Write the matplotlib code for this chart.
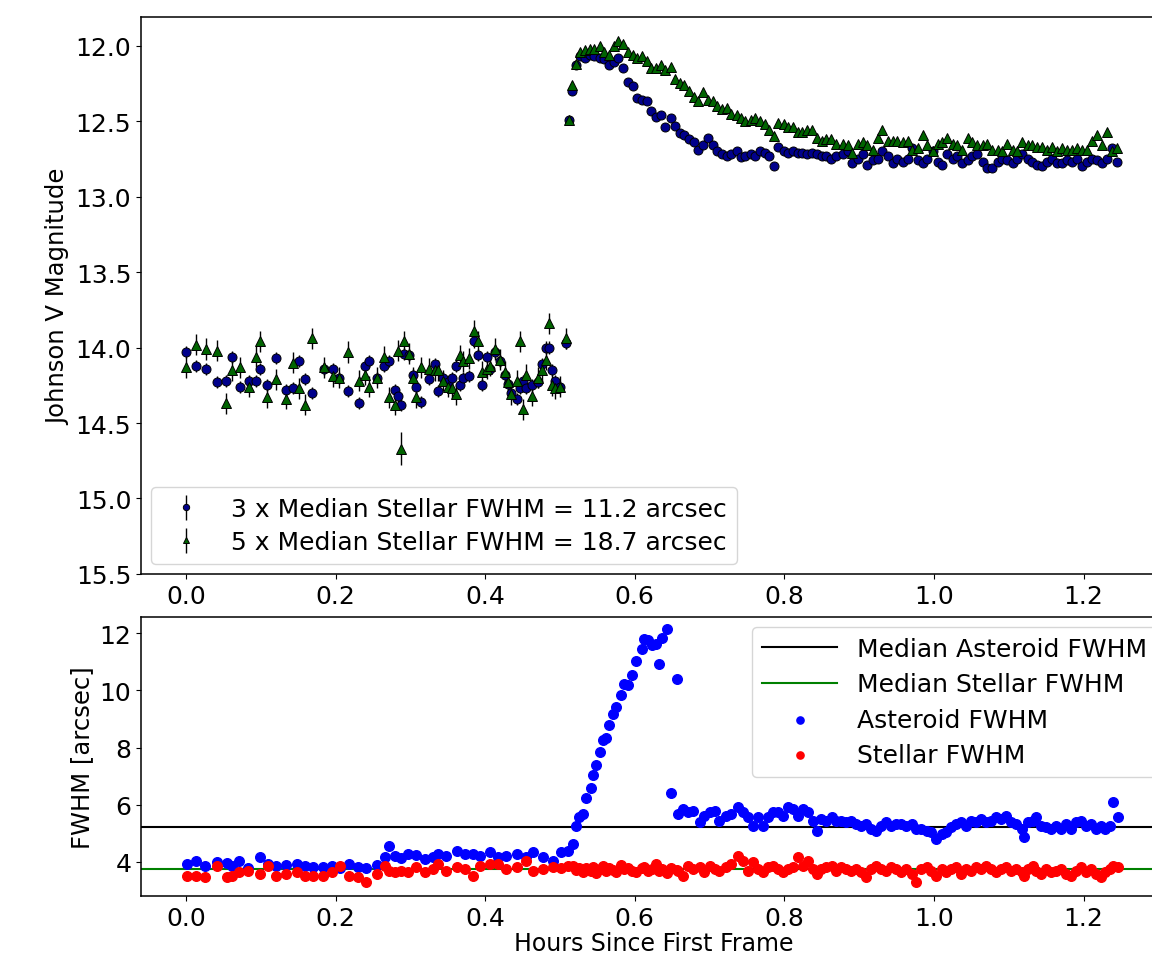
#!/usr/bin/env python3
"""Asteroid light curve (two apertures) and FWHM comparison, two stacked panels."""

import matplotlib
matplotlib.use("Agg")
import matplotlib.pyplot as plt


# ---- top panel: Johnson V magnitude, shared frame times for both apertures ----
HOURS_MAG = [
    # before the outburst
    0.000, 0.014, 0.027, 0.041, 0.054, 0.061, 0.072, 0.084, 0.094, 0.099,
    0.108, 0.121, 0.134, 0.143, 0.151, 0.159, 0.168, 0.184, 0.196, 0.204,
    0.217, 0.232, 0.240, 0.245, 0.255, 0.265, 0.272, 0.279, 0.283, 0.288,
    0.292, 0.298, 0.303, 0.307, 0.314, 0.325, 0.333, 0.337, 0.344, 0.350,
    0.356, 0.361, 0.366, 0.371, 0.379, 0.385, 0.391, 0.396, 0.402, 0.407,
    0.413, 0.420, 0.426, 0.431, 0.435, 0.442, 0.446, 0.450, 0.455, 0.463,
    0.471, 0.476, 0.482, 0.486, 0.489, 0.494, 0.500, 0.508,
    # outburst and decay
    0.512, 0.516, 0.522, 0.527, 0.533, 0.540, 0.546, 0.553, 0.559, 0.566,
    0.572, 0.578, 0.584, 0.591, 0.597, 0.603, 0.609, 0.616, 0.622, 0.628,
    0.635, 0.641, 0.648, 0.654, 0.660, 0.666, 0.672, 0.679, 0.685, 0.691,
    0.698, 0.704, 0.710, 0.717, 0.723, 0.729, 0.736, 0.742, 0.748, 0.755,
    0.761, 0.767, 0.774, 0.780, 0.786, 0.792, 0.799, 0.805, 0.811, 0.818,
    0.824, 0.830, 0.837, 0.843, 0.850, 0.856, 0.862, 0.869,
    # plateau
    0.878, 0.885, 0.891, 0.898, 0.905, 0.911, 0.918, 0.925, 0.931, 0.938,
    0.945, 0.951, 0.958, 0.965, 0.971, 0.978, 0.985, 0.991, 0.998, 1.005,
    1.011, 1.018, 1.025, 1.031, 1.038, 1.045, 1.051, 1.058, 1.065, 1.071,
    1.078, 1.085, 1.091, 1.098, 1.105, 1.111, 1.118, 1.125, 1.131, 1.138,
    1.145, 1.151, 1.158, 1.165, 1.171, 1.178, 1.185, 1.191, 1.198, 1.205,
    1.211, 1.218, 1.225, 1.231, 1.238, 1.245,
]

MAG_3FWHM = [
    14.03, 14.12, 14.14, 14.23, 14.22, 14.06, 14.26, 14.22, 14.22, 14.14,
    14.25, 14.07, 14.28, 14.27, 14.09, 14.21, 14.30, 14.14, 14.14, 14.20,
    14.29, 14.37, 14.12, 14.09, 14.20, 14.12, 14.09, 14.28, 14.32, 14.38,
    14.04, 14.05, 14.18, 14.26, 14.36, 14.21, 14.11, 14.29, 14.20, 14.23,
    14.20, 14.12, 14.25, 14.20, 14.19, 13.96, 14.05, 14.25, 14.06, 14.14,
    14.03, 14.09, 14.18, 14.24, 14.30, 14.34, 14.27, 14.22, 14.27, 14.25,
    14.23, 14.11, 14.00, 14.00, 14.15, 14.22, 14.26, 13.97,
    12.49, 12.30, 12.13, 12.07, 12.08, 12.06, 12.07, 12.08, 12.09, 12.13,
    12.11, 12.08, 12.15, 12.24, 12.27, 12.35, 12.36, 12.37, 12.43, 12.47,
    12.46, 12.54, 12.48, 12.53, 12.58, 12.59, 12.62, 12.64, 12.69, 12.66,
    12.61, 12.66, 12.70, 12.72, 12.73, 12.72, 12.70, 12.74, 12.73, 12.72,
    12.73, 12.70, 12.71, 12.73, 12.80, 12.67, 12.70, 12.71, 12.70, 12.71,
    12.71, 12.72, 12.71, 12.72, 12.73, 12.73, 12.75, 12.73,
    12.72, 12.70, 12.78, 12.75, 12.72, 12.79, 12.76, 12.75, 12.70, 12.73,
    12.78, 12.75, 12.77, 12.75, 12.68, 12.76, 12.78, 12.75, 12.70, 12.77,
    12.79, 12.72, 12.75, 12.73, 12.78, 12.76, 12.73, 12.72, 12.77, 12.81,
    12.81, 12.77, 12.75, 12.76, 12.78, 12.75, 12.72, 12.75, 12.77, 12.79,
    12.80, 12.77, 12.75, 12.78, 12.78, 12.76, 12.77, 12.75, 12.80, 12.77,
    12.75, 12.76, 12.78, 12.75, 12.68, 12.77,
]

MAG_5FWHM = [
    14.13, 13.98, 14.01, 14.02, 14.37, 14.15, 14.13, 14.26, 14.06, 13.96,
    14.33, 14.21, 14.34, 14.10, 14.27, 14.38, 13.94, 14.13, 14.19, 14.20,
    14.03, 14.22, 14.18, 14.26, 14.20, 14.06, 14.33, 14.38, 14.02, 14.67,
    13.96, 14.04, 14.20, 14.33, 14.13, 14.14, 14.15, 14.15, 14.22, 14.26,
    14.27, 14.31, 14.05, 14.09, 14.07, 13.89, 13.96, 14.16, 14.14, 14.12,
    14.01, 14.08, 14.16, 14.23, 14.31, 14.22, 13.96, 14.41, 14.18, 14.32,
    14.20, 14.15, 14.08, 13.84, 14.25, 14.27, 14.26, 13.94,
    12.49, 12.26, 12.12, 12.04, 12.03, 12.02, 12.02, 12.00, 12.04, 12.06,
    12.00, 11.97, 11.99, 12.04, 12.06, 12.08, 12.07, 12.10, 12.15, 12.15,
    12.13, 12.16, 12.14, 12.22, 12.25, 12.26, 12.30, 12.34, 12.37, 12.31,
    12.36, 12.37, 12.40, 12.42, 12.41, 12.45, 12.46, 12.48, 12.50, 12.49,
    12.48, 12.50, 12.52, 12.56, 12.60, 12.51, 12.52, 12.54, 12.54, 12.57,
    12.57, 12.56, 12.56, 12.61, 12.63, 12.62, 12.62, 12.65,
    12.65, 12.66, 12.71, 12.65, 12.64, 12.66, 12.69, 12.61, 12.56, 12.63,
    12.63, 12.63, 12.64, 12.63, 12.69, 12.68, 12.59, 12.66, 12.70, 12.65,
    12.64, 12.61, 12.65, 12.66, 12.69, 12.61, 12.64, 12.66, 12.66, 12.65,
    12.69, 12.69, 12.70, 12.65, 12.69, 12.70, 12.64, 12.66, 12.66, 12.67,
    12.67, 12.69, 12.67, 12.70, 12.68, 12.69, 12.69, 12.68, 12.69, 12.69,
    12.63, 12.59, 12.66, 12.57, 12.70, 12.68,
]

N_PRE = 68
ERR_3FWHM = [0.04] * N_PRE + [0.012] * (len(HOURS_MAG) - N_PRE)
ERR_5FWHM = [0.07] * N_PRE + [0.018] * (len(HOURS_MAG) - N_PRE)
ERR_5FWHM[29] = 0.11  # the one deep point near 0.29 h

LABEL_3 = "3 x Median Stellar FWHM = 11.2 arcsec"
LABEL_5 = "5 x Median Stellar FWHM = 18.7 arcsec"

# ---- bottom panel: FWHM of asteroid and comparison stars ----
HOURS_FWHM = [
    0.001, 0.014, 0.025, 0.041, 0.055, 0.061, 0.071, 0.083, 0.099, 0.110,
    0.121, 0.134, 0.148, 0.159, 0.170, 0.183, 0.195, 0.206, 0.218, 0.230,
    0.241, 0.255, 0.266, 0.272, 0.279, 0.288, 0.297, 0.308, 0.319, 0.330,
    0.337, 0.348, 0.362, 0.373, 0.384, 0.393, 0.406, 0.417, 0.428, 0.442,
    0.455, 0.464, 0.477, 0.491, 0.502, 0.511, 0.517,
    0.522, 0.526, 0.531, 0.535, 0.541, 0.544, 0.548, 0.554, 0.557, 0.561,
    0.566, 0.571, 0.575, 0.582, 0.586, 0.591, 0.596, 0.601, 0.609, 0.613,
    0.618, 0.623, 0.628, 0.632, 0.637, 0.643, 0.649, 0.656,
    0.658, 0.664, 0.671, 0.678, 0.687, 0.693, 0.700, 0.707, 0.713, 0.722,
    0.729, 0.738, 0.745, 0.751, 0.758, 0.765, 0.771, 0.778, 0.785, 0.791,
    0.798, 0.805, 0.811, 0.818, 0.825, 0.831, 0.838, 0.843, 0.849, 0.856,
    0.863, 0.869, 0.876, 0.883, 0.889, 0.896, 0.903, 0.909, 0.916, 0.923,
    0.929, 0.936, 0.943, 0.949, 0.956, 0.963, 0.970, 0.976, 0.983, 0.990,
    0.996, 1.003, 1.010, 1.016, 1.023, 1.030, 1.036, 1.043, 1.050, 1.056,
    1.063, 1.070, 1.076, 1.083, 1.090, 1.096, 1.103, 1.110, 1.117, 1.120,
    1.125, 1.132, 1.136, 1.143, 1.150, 1.157, 1.163, 1.170, 1.177, 1.183,
    1.190, 1.197, 1.203, 1.210, 1.217, 1.223, 1.228, 1.235, 1.239, 1.246,
]

ASTEROID_FWHM = [
    3.93, 4.05, 3.85, 3.99, 3.97, 3.85, 4.05, 3.78, 4.16, 3.93,
    3.87, 3.90, 3.93, 3.85, 3.81, 3.81, 3.85, 3.78, 3.93, 3.81,
    3.78, 3.90, 4.16, 4.55, 4.20, 4.13, 4.28, 4.24, 4.10, 4.16,
    4.28, 4.22, 4.40, 4.28, 4.28, 4.22, 4.34, 4.16, 4.22, 4.28,
    4.16, 4.34, 4.16, 4.05, 4.34, 4.40, 4.63,
    5.27, 5.56, 5.68, 6.23, 6.58, 7.03, 7.38, 7.85, 8.25, 8.33,
    8.78, 9.18, 9.41, 9.84, 10.23, 10.19, 10.52, 11.04, 11.43, 11.80,
    11.74, 11.57, 11.63, 10.93, 11.82, 12.15, 6.41, 10.40,
    5.68, 5.85, 5.74, 5.79, 5.39, 5.62, 5.74, 5.79, 5.44, 5.62,
    5.68, 5.91, 5.74, 5.56, 5.27, 5.56, 5.27, 5.56, 5.74, 5.74,
    5.62, 5.91, 5.85, 5.62, 5.85, 5.74, 5.44, 5.09, 5.50, 5.44,
    5.56, 5.44, 5.44, 5.39, 5.44, 5.33, 5.27, 5.33, 5.15, 5.09,
    5.27, 5.39, 5.27, 5.33, 5.33, 5.27, 5.33, 5.15, 5.15, 5.09,
    5.04, 4.80, 4.98, 5.04, 5.21, 5.33, 5.39, 5.27, 5.44, 5.39,
    5.50, 5.39, 5.44, 5.56, 5.50, 5.62, 5.39, 5.33, 5.15, 4.86,
    5.39, 5.44, 5.56, 5.27, 5.21, 5.15, 5.27, 5.15, 5.33, 5.15,
    5.39, 5.44, 5.27, 5.33, 5.15, 5.27, 5.15, 5.27, 6.09, 5.56,
]

STELLAR_FWHM = [
    3.52, 3.52, 3.46, 3.87, 3.46, 3.52, 3.64, 3.70, 3.58, 3.85,
    3.50, 3.58, 3.64, 3.52, 3.52, 3.50, 3.64, 3.87, 3.52, 3.46,
    3.29, 3.58, 3.85, 3.70, 3.64, 3.70, 3.66, 3.81, 3.64, 3.76,
    3.93, 3.70, 3.81, 3.76, 3.52, 3.87, 3.93, 3.93, 3.76, 3.81,
    4.05, 3.70, 3.76, 3.81, 3.78, 3.87, 3.85,
    3.72, 3.80, 3.65, 3.78, 3.70, 3.82, 3.62, 3.75, 3.85, 3.68,
    3.79, 3.72, 3.66, 3.88, 3.74, 3.80, 3.70, 3.64, 3.78, 3.83,
    3.70, 3.76, 3.92, 3.68, 3.74, 3.62, 3.80, 3.72,
    3.70, 3.52, 3.87, 3.76, 3.81, 3.64, 3.87, 3.76, 3.70, 3.81,
    3.93, 4.22, 4.05, 3.70, 3.99, 3.76, 3.64, 3.81, 3.87, 3.76,
    3.64, 3.76, 3.81, 4.16, 3.87, 4.05, 3.76, 3.58, 3.76, 3.81,
    3.87, 3.70, 3.81, 3.76, 3.70, 3.76, 3.64, 3.47, 3.76, 3.87,
    3.76, 3.70, 3.81, 3.76, 3.64, 3.76, 3.58, 3.29, 3.76, 3.81,
    3.70, 3.52, 3.76, 3.64, 3.76, 3.81, 3.58, 3.76, 3.70, 3.81,
    3.76, 3.87, 3.76, 3.64, 3.76, 3.81, 3.70, 3.76, 3.64, 3.52,
    3.76, 3.87, 3.70, 3.58, 3.76, 3.64, 3.70, 3.76, 3.58, 3.52,
    3.70, 3.81, 3.64, 3.76, 3.58, 3.47, 3.64, 3.76, 3.87, 3.81,
]

MEDIAN_ASTEROID = 5.22
MEDIAN_STELLAR = 3.76

MAG_TICKS = [12.0, 12.5, 13.0, 13.5, 14.0, 14.5, 15.0, 15.5]
HOUR_TICKS = [0.0, 0.2, 0.4, 0.6, 0.8, 1.0, 1.2]
FWHM_TICKS = [4, 6, 8, 10, 12]

assert len(HOURS_MAG) == len(MAG_3FWHM) == len(MAG_5FWHM)
assert len(HOURS_FWHM) == len(ASTEROID_FWHM) == len(STELLAR_FWHM)

FS = 18
plt.rcParams["font.family"] = ["DejaVu Sans"]
plt.rcParams["font.size"] = FS

fig = plt.figure(figsize=(11.52, 9.54), dpi=100)
# the original figure was cropped on the right, so the axes run past the edge
ax_mag = fig.add_axes([0.1224, 0.3973, 0.8910, 0.5839])
ax_fw = fig.add_axes([0.1224, 0.0597, 0.8910, 0.2925])

ax_mag.errorbar(
    HOURS_MAG, MAG_3FWHM, yerr=ERR_3FWHM,
    fmt="o", color="darkblue", mec="black", mew=0.7, ms=6.5,
    ecolor="black", elinewidth=1.0, capsize=0, label=LABEL_3,
)
ax_mag.errorbar(
    HOURS_MAG, MAG_5FWHM, yerr=ERR_5FWHM,
    fmt="^", color="darkgreen", mec="black", mew=0.7, ms=6.5,
    ecolor="black", elinewidth=1.0, capsize=0, label=LABEL_5,
)
ax_mag.set_xlim(-0.06, 1.312)
ax_mag.set_ylim(15.5, 11.81)
ax_mag.set_yticks(MAG_TICKS)
ax_mag.set_yticklabels([f"{v:.1f}" for v in MAG_TICKS])
ax_mag.set_xticks(HOUR_TICKS)
ax_mag.set_xticklabels([f"{v:.1f}" for v in HOUR_TICKS])
ax_mag.set_ylabel("Johnson V Magnitude", fontsize=17.5)
ax_mag.legend(loc="lower left", fontsize=FS, markerscale=0.7,
              borderaxespad=0.4, labelspacing=0.35)

ax_fw.axhline(MEDIAN_ASTEROID, color="black", linewidth=1.5, zorder=1,
              label="Median Asteroid FWHM")
ax_fw.axhline(MEDIAN_STELLAR, color="green", linewidth=1.5, zorder=1,
              label="Median Stellar FWHM")
ax_fw.scatter(HOURS_FWHM, ASTEROID_FWHM, s=48, color="blue", zorder=2,
              label="Asteroid FWHM")
ax_fw.scatter(HOURS_FWHM, STELLAR_FWHM, s=48, color="red", zorder=2,
              label="Stellar FWHM")
ax_fw.set_xlim(-0.06, 1.312)
ax_fw.set_ylim(2.81, 12.56)
ax_fw.set_yticks(FWHM_TICKS)
ax_fw.set_xticks(HOUR_TICKS)
ax_fw.set_xticklabels([f"{v:.1f}" for v in HOUR_TICKS])
ax_fw.set_xlabel("Hours Since First Frame", fontsize=17, labelpad=1)
ax_fw.set_ylabel("FWHM [arcsec]", fontsize=17.5)
ax_fw.legend(loc="upper right", fontsize=FS, scatterpoints=1,
             markerscale=0.75, borderaxespad=0.4, labelspacing=0.45,
             handlelength=3.0)

for ax in (ax_mag, ax_fw):
    ax.tick_params(axis="both", labelsize=FS)
    for spine in ax.spines.values():
        spine.set_linewidth(1.1)

fig.savefig("out.png", dpi=100, facecolor="white")
plt.close(fig)
